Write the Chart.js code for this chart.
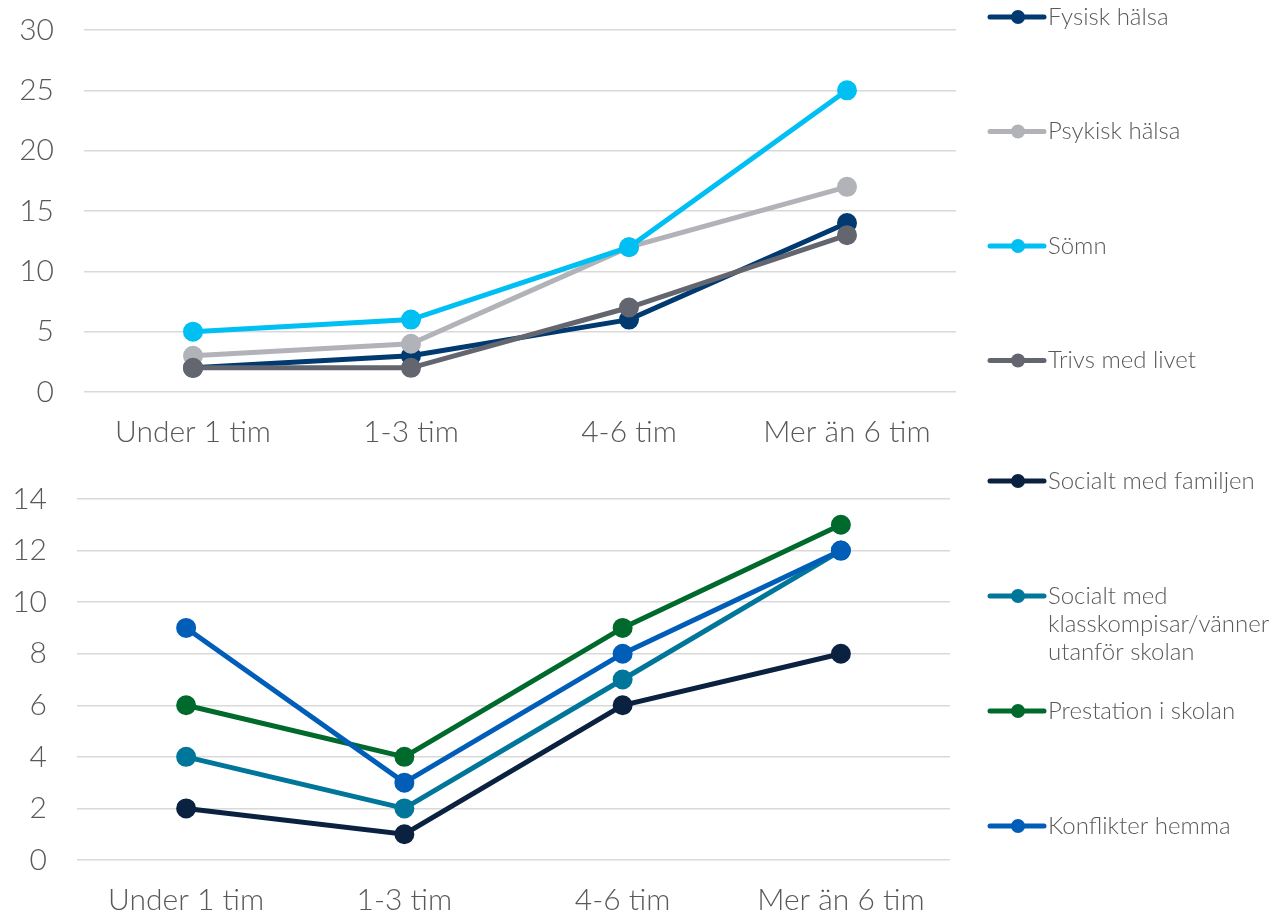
<!DOCTYPE html>
<html>
<head>
<meta charset="utf-8">
<script src="https://cdn.jsdelivr.net/npm/chart.js@4/dist/chart.umd.min.js"></script>
<style>
  html, body { margin: 0; padding: 0; background: #fff; }
  body { width: 1276px; height: 913px; position: relative; overflow: hidden; }
  .box { position: absolute; left: 0; width: 1276px; }
  #topBox { top: -18px; height: 478px; }
  #bottomBox { top: 451px; height: 462px; }
</style>
</head>
<body>
<div class="box" id="topBox"><canvas id="topChart"></canvas></div>
<div class="box" id="bottomBox"><canvas id="bottomChart"></canvas></div>
<script>
// Time categories shared by both panels
const categories = ['Under 1 tim', '1-3 tim', '4-6 tim', 'Mer än 6 tim'];

// Upper panel: health and well-being
const fysiskHalsa = [2, 3, 6, 14];
const psykiskHalsa = [3, 4, 12, 17];
const somn = [5, 6, 12, 25];
const trivsMedLivet = [2, 2, 7, 13];
const topTicks = [0, 5, 10, 15, 20, 25, 30];

// Lower panel: social life, school and home
const socialtFamiljen = [2, 1, 6, 8];
const socialtVanner = [4, 2, 7, 12];
const prestationSkolan = [6, 4, 9, 13];
const konflikterHemma = [9, 3, 8, 12];
const bottomTicks = [0, 2, 4, 6, 8, 10, 12, 14];

const FONT = 'Lato, Inter, "Open Sans", sans-serif';
const TEXT = '#595959';

function series(label, data, color, idx, n) {
  return {
    label, data,
    borderColor: color, backgroundColor: color,
    pointBackgroundColor: color, pointBorderColor: color,
    borderWidth: 5, pointRadius: 7.5, pointHoverRadius: 7.5,
    tension: 0,
    order: n - 1 - idx // later series are painted on top
  };
}

// Legend drawn at the right with evenly spaced entries
const sideLegend = {
  id: 'sideLegend',
  afterDraw(chart, args, opts) {
    const ctx = chart.ctx;
    ctx.save();
    chart.data.datasets.forEach((ds, i) => {
      const y = opts.startY + i * opts.step;
      ctx.strokeStyle = ds.borderColor;
      ctx.lineWidth = 5;
      ctx.lineCap = 'round';
      ctx.beginPath();
      ctx.moveTo(opts.x, y);
      ctx.lineTo(opts.x + 54, y);
      ctx.stroke();
      ctx.fillStyle = ds.borderColor;
      ctx.beginPath();
      ctx.arc(opts.x + 28, y, 7, 0, Math.PI * 2);
      ctx.fill();
      ctx.fillStyle = TEXT;
      ctx.font = '300 24px ' + FONT;
      ctx.textBaseline = 'middle';
      ctx.textAlign = 'left';
      const lines = Array.isArray(ds.label) ? ds.label : [ds.label];
      lines.forEach((t, k) => ctx.fillText(t, opts.x + 58, y + k * 28));
    });
    ctx.restore();
  }
};

function makeChart(id, datasets, ticks, cfg) {
  return new Chart(document.getElementById(id), {
    type: 'line',
    data: { labels: categories, datasets },
    plugins: [sideLegend],
    options: {
      responsive: true,
      maintainAspectRatio: false,
      animation: false,
      events: [],
      layout: { padding: { top: 0, right: cfg.right, left: 0, bottom: 0 } },
      plugins: {
        legend: { display: false },
        tooltip: { enabled: false },
        title: { display: false },
        sideLegend: cfg.legend
      },
      scales: {
        x: {
          offset: true,
          grid: { display: false, drawTicks: false, offset: true },
          border: { display: false },
          ticks: { color: TEXT, font: { family: FONT, size: 30, weight: 300 }, padding: 22, maxRotation: 0 },
          afterFit(s) { s.height = cfg.xHeight; }
        },
        y: {
          min: ticks[0], max: ticks[ticks.length - 1],
          afterBuildTicks(s) { s.ticks = ticks.map(v => ({ value: v })); },
          grid: { color: '#D9D9D9', lineWidth: 1.5, drawTicks: false },
          border: { display: false },
          ticks: { color: TEXT, font: { family: FONT, size: 30, weight: 300 }, padding: 30 },
          afterFit(s) { s.width = cfg.yWidth; }
        }
      }
    }
  });
}

const topNames = ['Fysisk hälsa', 'Psykisk hälsa', 'Sömn', 'Trivs med livet'];
const topValues = [fysiskHalsa, psykiskHalsa, somn, trivsMedLivet];
const topColors = ['#003A70', '#B1B3B8', '#00BFF3', '#63666F'];

const bottomNames = ['Socialt med familjen', ['Socialt med', 'klasskompisar/vänner', 'utanför skolan'], 'Prestation i skolan', 'Konflikter hemma'];
const bottomValues = [socialtFamiljen, socialtVanner, prestationSkolan, konflikterHemma];
const bottomColors = ['#0A2240', '#00779A', '#006A2C', '#005EB8'];

makeChart('topChart',
  topNames.map((n, i) => series(n, topValues[i], topColors[i], i, topNames.length)),
  topTicks,
  { right: 320, yWidth: 84, xHeight: 68, legend: { x: 990, startY: 35, step: 114.5 } });

makeChart('bottomChart',
  bottomNames.map((n, i) => series(n, bottomValues[i], bottomColors[i], i, bottomNames.length)),
  bottomTicks,
  { right: 326, yWidth: 77, xHeight: 53, legend: { x: 990, startY: 30, step: 115 } });
</script>
</body>
</html>
